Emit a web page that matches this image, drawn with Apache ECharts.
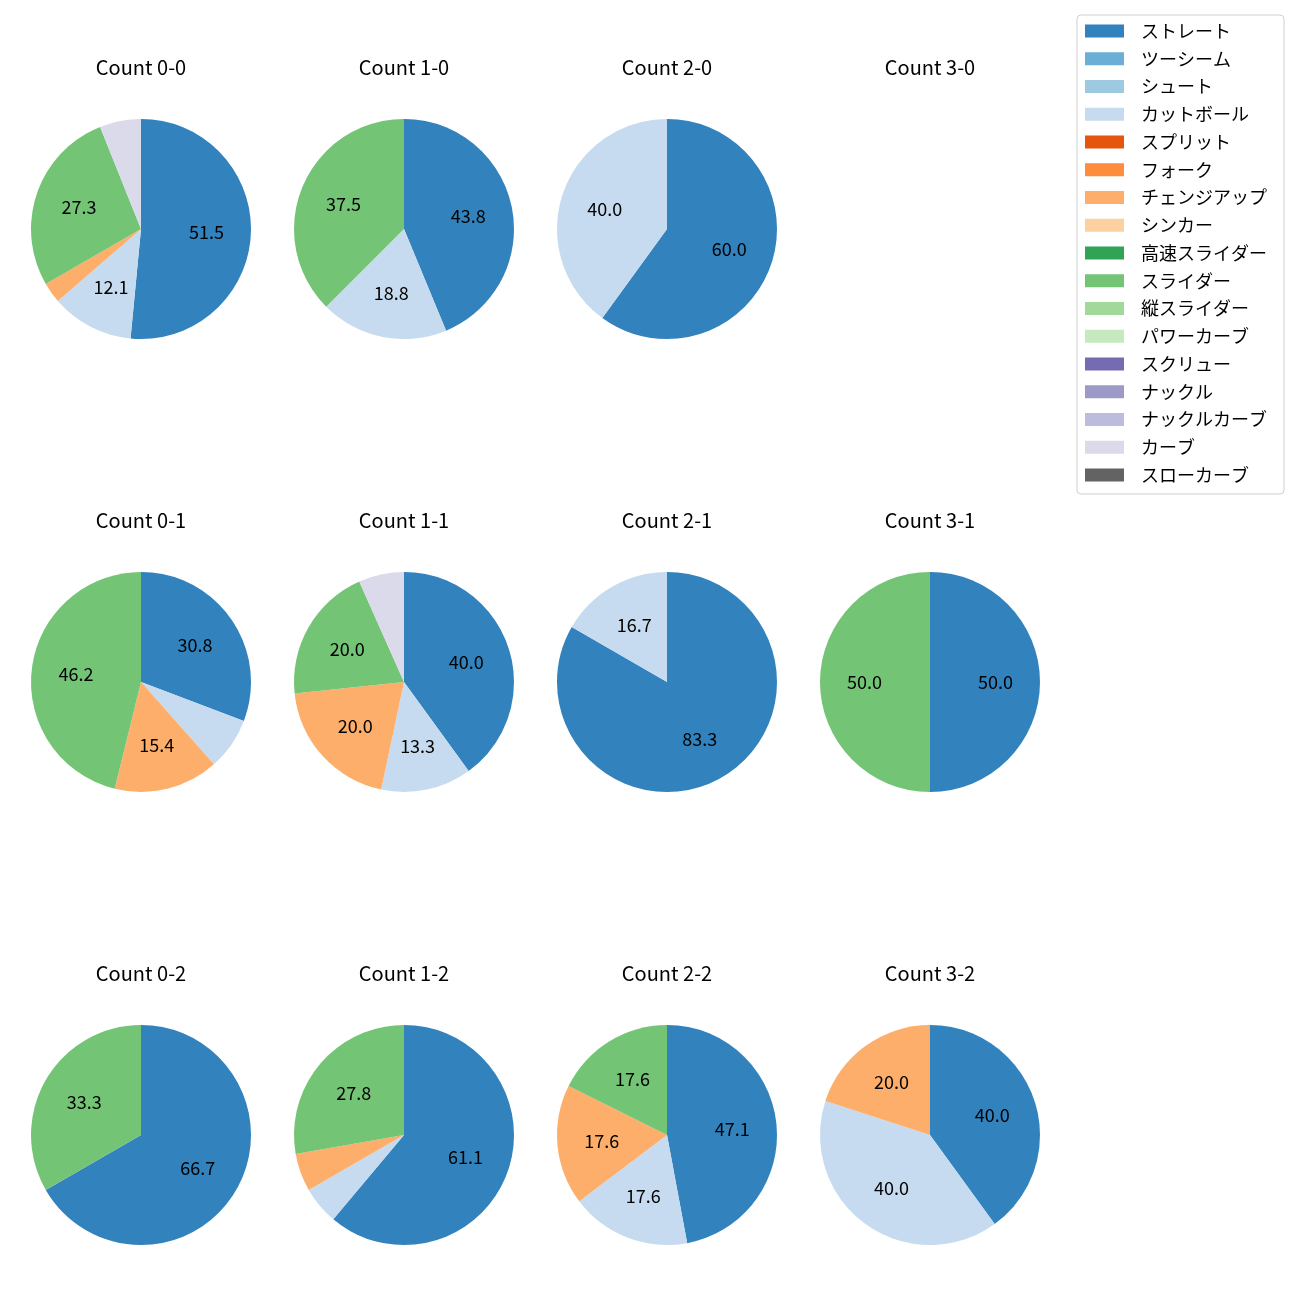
<!DOCTYPE html>
<html>
<head>
<meta charset="utf-8">
<script src="https://cdn.jsdelivr.net/npm/echarts@6/dist/echarts.min.js"></script>
<style>html,body{margin:0;padding:0;background:#fff}#chart{width:1300px;height:1300px}</style>
</head>
<body>
<div id="chart"></div>
<script>
const pitchTypes = ['ストレート','ツーシーム','シュート','カットボール','スプリット','フォーク','チェンジアップ','シンカー','高速スライダー','スライダー','縦スライダー','パワーカーブ','スクリュー','ナックル','ナックルカーブ','カーブ','スローカーブ'];
const pitchColors = ['#3182bd','#6baed6','#9ecae1','#c6dbef','#e6550d','#fd8d3c','#fdae6b','#fdd0a2','#31a354','#74c476','#a1d99b','#c7e9c0','#756bb1','#9e9ac8','#bcbddc','#dadaeb','#636363'];
const countTitles = ['Count 0-0','Count 1-0','Count 2-0','Count 3-0','Count 0-1','Count 1-1','Count 2-1','Count 3-1','Count 0-2','Count 1-2','Count 2-2','Count 3-2'];
const count00 = [17,0,0,4,0,0,1,0,0,9,0,0,0,0,0,2,0];
const count10 = [7,0,0,3,0,0,0,0,0,6,0,0,0,0,0,0,0];
const count20 = [3,0,0,2,0,0,0,0,0,0,0,0,0,0,0,0,0];
const count30 = [0,0,0,0,0,0,0,0,0,0,0,0,0,0,0,0,0];
const count01 = [4,0,0,1,0,0,2,0,0,6,0,0,0,0,0,0,0];
const count11 = [6,0,0,2,0,0,3,0,0,3,0,0,0,0,0,1,0];
const count21 = [5,0,0,1,0,0,0,0,0,0,0,0,0,0,0,0,0];
const count31 = [1,0,0,0,0,0,0,0,0,1,0,0,0,0,0,0,0];
const count02 = [2,0,0,0,0,0,0,0,0,1,0,0,0,0,0,0,0];
const count12 = [11,0,0,1,0,0,1,0,0,5,0,0,0,0,0,0,0];
const count22 = [8,0,0,3,0,0,3,0,0,3,0,0,0,0,0,0,0];
const count32 = [2,0,0,2,0,0,1,0,0,0,0,0,0,0,0,0,0];
const allCounts = [count00,count10,count20,count30,count01,count11,count21,count31,count02,count12,count22,count32];

const FONT = 'Noto Sans CJK JP';
const colX = [141, 404, 667, 930];
const rowY = [229, 682, 1135];
const R = 110;

const series = [];
const titles = [];
allCounts.forEach((arr, i) => {
  const cx = colX[i % 4], cy = rowY[Math.floor(i / 4)];
  titles.push({
    text: countTitles[i], left: cx, top: cy - R - 62, textAlign: 'center', padding: 0,
    textStyle: { fontFamily: FONT, fontSize: 20, fontWeight: 'normal', color: '#000', lineHeight: 20 }
  });
  const total = arr.reduce((a, b) => a + b, 0);
  if (total === 0) return;
  const data = [];
  arr.forEach((v, k) => { if (v > 0) data.push({ name: pitchTypes[k], value: v, itemStyle: { color: pitchColors[k] } }); });
  series.push({
    type: 'pie', center: [cx, cy], radius: [0, R], startAngle: 90, clockwise: true,
    silent: true, animation: false, label: { show: false }, labelLine: { show: false },
    data: data
  });
  series.push({
    type: 'pie', center: [cx, cy], radius: [15, R], startAngle: 90, clockwise: true,
    silent: true, animation: false, legendHoverLink: false,
    itemStyle: { color: 'rgba(0,0,0,0)' },
    label: {
      show: true, position: 'inside', fontFamily: FONT, fontSize: 18, color: '#000',
      formatter: p => { const pct = p.value / total * 100; return pct > 10 ? pct.toFixed(1) : ''; }
    },
    labelLine: { show: false },
    data: data.map(d => ({ name: d.name, value: d.value }))
  });
});
// legend source
series.unshift({
  type: 'pie', center: [-500, -500], radius: [0, 1], silent: true, animation: false,
  label: { show: false }, labelLine: { show: false },
  data: pitchTypes.map((n, k) => ({ name: n, value: 1, itemStyle: { color: pitchColors[k] } }))
});

const chart = echarts.init(document.getElementById('chart'), null, { renderer: 'canvas' });
chart.setOption({
  backgroundColor: '#fff',
  animation: false,
  title: titles,
  legend: {
    orient: 'vertical', left: 1077, top: 15,
    data: pitchTypes, icon: 'rect', itemWidth: 39, itemHeight: 13, itemGap: 9.75,
    padding: [7, 17, 10, 8], borderColor: '#d0d0d0', borderWidth: 1, borderRadius: 4,
    selectedMode: false,
    textStyle: { fontFamily: FONT, fontSize: 18, color: '#000', lineHeight: 16, padding: [0, 0, 0, 12] }
  },
  series: series
});
</script>
</body>
</html>
